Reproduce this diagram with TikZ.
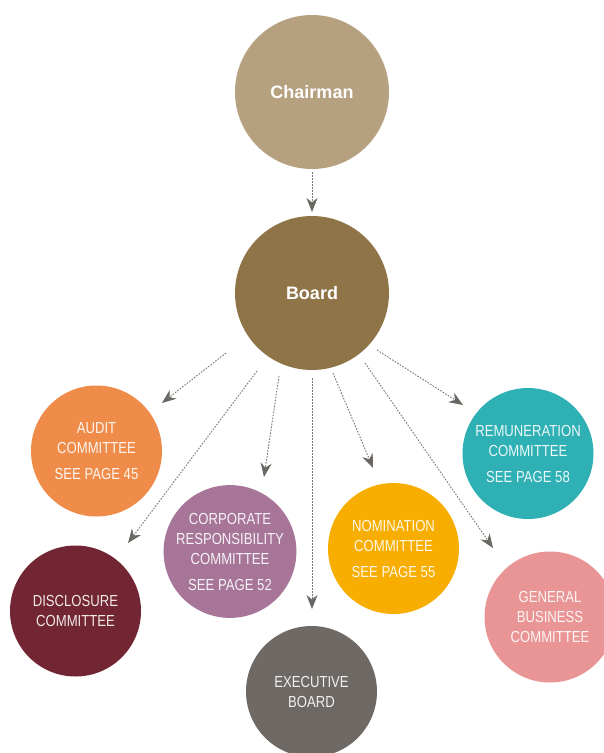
\documentclass[tikz,border=0pt]{standalone}
\usepackage{fontspec}
\setmainfont{Liberation Sans}
\newfontfamily\condfont{Liberation Sans}[FakeStretch=0.82]
\usetikzlibrary{arrows.meta,calc}
\definecolor{cChair}{HTML}{B5A07F}
\definecolor{cBoard}{HTML}{8F7448}
\definecolor{cAudit}{HTML}{F08C4A}
\definecolor{cDisc}{HTML}{722532}
\definecolor{cCorp}{HTML}{A67598}
\definecolor{cExec}{HTML}{6E6964}
\definecolor{cNom}{HTML}{F8AE00}
\definecolor{cRem}{HTML}{2FB0B5}
\definecolor{cGen}{HTML}{E99596}
\definecolor{lineGray}{HTML}{7A7773}
\definecolor{tipGray}{HTML}{6B6864}
\begin{document}
\begin{tikzpicture}[x=1pt,y=-1pt,
  big/.style={circle,minimum size=154pt,inner sep=0pt,text=white,
    font=\fontsize{18}{20}\selectfont\bfseries},
  comm/.style={circle,minimum size=131pt,inner sep=0pt,text=white,text opacity=0.9,
    align=center,font=\condfont\fontsize{16}{20}\selectfont},
  conn/.style={draw=lineGray,line width=0.9pt,dash pattern=on 1.6pt off 1.4pt,
    -{Stealth[length=14pt,width=11pt,inset=4.5pt,color=tipGray]}}
]
\useasboundingbox (0,0) rectangle (604,753);
\clip (0,0) rectangle (604,753);
\fill[white] (0,0) rectangle (604,753);

\node[big,fill=cChair] (chair) at (312,92) {Chairman};
\node[big,fill=cBoard] (board) at (312,293) {Board};

\node[comm,fill=cAudit] (audit) at (96.5,451) {AUDIT\\COMMITTEE\\[6pt]SEE PAGE 45};
\node[comm,fill=cDisc] (disc) at (75.5,611) {DISCLOSURE\\COMMITTEE};
\node[comm,fill=cCorp] (corp) at (230,551.5) {CORPORATE\\RESPONSIBILITY\\COMMITTEE\\[6pt]SEE PAGE 52};
\node[comm,fill=cExec] (exec) at (311.5,691.5) {EXECUTIVE\\BOARD};
\node[comm,fill=cNom] (nom) at (393.5,548.5) {NOMINATION\\COMMITTEE\\[6pt]SEE PAGE 55};
\node[comm,fill=cRem] (rem) at (528,453.5) {REMUNERATION\\COMMITTEE\\[6pt]SEE PAGE 58};
\node[comm,fill=cGen] (gen) at (550,617) {GENERAL\\BUSINESS\\COMMITTEE};

\draw[conn] ($(chair)+(0,80)$) -- ($(board)+(0,-81)$);
\draw[conn] ($(board)+(-86,60)$) -- ($(audit)+(65.5,-48)$);
\draw[conn] ($(board)+(-55,78)$) -- ($(disc)+(52.5,-68)$);
\draw[conn] ($(board)+(-33,83)$) -- ($(corp)+(34,-74.5)$);
\draw[conn] ($(board)+(0,85)$) -- ($(exec)+(0.5,-82.5)$);
\draw[conn] ($(board)+(21,80)$) -- ($(nom)+(-20.5,-80.5)$);
\draw[conn] ($(board)+(53,70)$) -- ($(gen)+(-57,-69)$);
\draw[conn] ($(board)+(65,57)$) -- ($(rem)+(-65,-48.5)$);
\end{tikzpicture}
\end{document}
